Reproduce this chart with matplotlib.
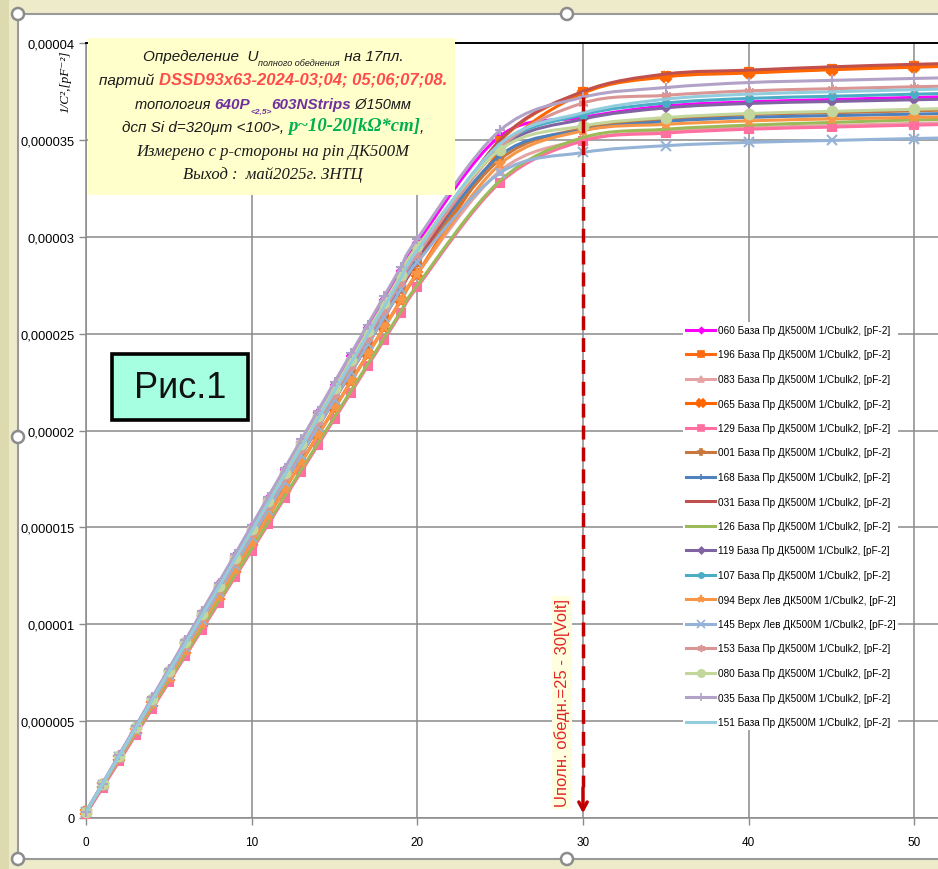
import numpy as np
import matplotlib
matplotlib.use('Agg')
import matplotlib.pyplot as plt
from matplotlib.path import Path
from matplotlib.patches import PathPatch, Rectangle, Circle
from matplotlib.lines import Line2D

plt.rcParams['font.family'] = ['Liberation Sans', 'DejaVu Sans']
SANS = ['Liberation Sans', 'DejaVu Sans']
SERIF = ['Liberation Serif', 'DejaVu Serif']

# напряжение, В
volts = [0, 1, 2, 3, 4, 5, 6, 7, 8, 9, 10, 11, 12, 13, 14, 15, 16, 17, 18, 19, 20,
         25, 30, 35, 40, 45, 50, 55]

# 1/C^2 в единицах 1e-6 pF^-2
s060 = [0.3, 1.77, 3.24, 4.71, 6.18, 7.65, 9.12, 10.59, 12.06, 13.53, 15.0, 16.47, 17.94, 19.41, 20.88, 22.35, 23.82, 25.29, 26.76, 28.23, 29.7,
        35.2, 36.16, 36.75, 36.96, 37.08, 37.19, 37.28]
s196 = [0.3, 1.72, 3.14, 4.56, 5.98, 7.4, 8.82, 10.24, 11.66, 13.08, 14.5, 15.92, 17.34, 18.76, 20.18, 21.6, 23.02, 24.44, 25.86, 27.28, 28.7,
        34.95, 37.48, 38.3, 38.51, 38.68, 38.82, 38.93]
s083 = [0.3, 1.69, 3.08, 4.47, 5.86, 7.25, 8.64, 10.03, 11.42, 12.81, 14.2, 15.59, 16.98, 18.37, 19.76, 21.15, 22.54, 23.93, 25.32, 26.71, 28.1,
        33.4, 35.0, 35.45, 35.62, 35.74, 35.85, 35.94]
s065 = [0.3, 1.69, 3.08, 4.47, 5.86, 7.25, 8.64, 10.03, 11.42, 12.81, 14.2, 15.59, 16.98, 18.37, 19.76, 21.15, 22.54, 23.93, 25.32, 26.71, 28.1,
        34.4, 37.4, 38.25, 38.45, 38.62, 38.75, 38.86]
s129 = [0.2, 1.56, 2.92, 4.28, 5.64, 7.0, 8.36, 9.72, 11.08, 12.44, 13.8, 15.16, 16.52, 17.88, 19.24, 20.6, 21.96, 23.32, 24.68, 26.04, 27.4,
        32.8, 34.95, 35.35, 35.55, 35.66, 35.76, 35.85]
s001 = [0.3, 1.72, 3.14, 4.56, 5.98, 7.4, 8.82, 10.24, 11.66, 13.08, 14.5, 15.92, 17.34, 18.76, 20.18, 21.6, 23.02, 24.44, 25.86, 27.28, 28.7,
        34.0, 35.6, 36.05, 36.3, 36.4, 36.5, 36.6]
s168 = [0.3, 1.73, 3.16, 4.59, 6.02, 7.45, 8.88, 10.31, 11.74, 13.17, 14.6, 16.03, 17.46, 18.89, 20.32, 21.75, 23.18, 24.61, 26.04, 27.47, 28.9,
        34.2, 35.5, 35.95, 36.16, 36.25, 36.33, 36.41]
s031 = [0.3, 1.72, 3.14, 4.56, 5.98, 7.4, 8.82, 10.24, 11.66, 13.08, 14.5, 15.92, 17.34, 18.76, 20.18, 21.6, 23.02, 24.44, 25.86, 27.28, 28.7,
        35.0, 37.5, 38.4, 38.6, 38.77, 38.9, 39.0]
s126 = [0.3, 1.66, 3.02, 4.38, 5.74, 7.1, 8.46, 9.82, 11.18, 12.54, 13.9, 15.26, 16.62, 17.98, 19.34, 20.7, 22.06, 23.42, 24.78, 26.14, 27.5,
        32.9, 35.12, 35.55, 35.76, 35.9, 36.03, 36.12]
s119 = [0.3, 1.75, 3.2, 4.65, 6.1, 7.55, 9.0, 10.45, 11.9, 13.35, 14.8, 16.25, 17.7, 19.15, 20.6, 22.05, 23.5, 24.95, 26.4, 27.85, 29.3,
        34.6, 36.07, 36.65, 36.88, 36.98, 37.07, 37.15]
s107 = [0.3, 1.75, 3.2, 4.65, 6.1, 7.55, 9.0, 10.45, 11.9, 13.35, 14.8, 16.25, 17.7, 19.15, 20.6, 22.05, 23.5, 24.95, 26.4, 27.85, 29.3,
        34.7, 36.3, 36.9, 37.14, 37.25, 37.36, 37.45]
s094 = [0.3, 1.69, 3.08, 4.47, 5.86, 7.25, 8.64, 10.03, 11.42, 12.81, 14.2, 15.59, 16.98, 18.37, 19.76, 21.15, 22.54, 23.93, 25.32, 26.71, 28.1,
        33.75, 35.47, 35.8, 35.98, 36.08, 36.16, 36.24]
s145 = [0.3, 1.72, 3.14, 4.56, 5.98, 7.4, 8.82, 10.24, 11.66, 13.08, 14.5, 15.92, 17.34, 18.76, 20.18, 21.6, 23.02, 24.44, 25.86, 27.28, 28.7,
        33.3, 34.35, 34.7, 34.87, 34.97, 35.07, 35.15]
s153 = [0.3, 1.74, 3.18, 4.62, 6.06, 7.5, 8.94, 10.38, 11.82, 13.26, 14.7, 16.14, 17.58, 19.02, 20.46, 21.9, 23.34, 24.78, 26.22, 27.66, 29.1,
        34.6, 36.9, 37.3, 37.53, 37.64, 37.74, 37.83]
s080 = [0.3, 1.76, 3.22, 4.68, 6.14, 7.6, 9.06, 10.52, 11.98, 13.44, 14.9, 16.36, 17.82, 19.28, 20.74, 22.2, 23.66, 25.12, 26.58, 28.04, 29.5,
        34.5, 35.72, 36.15, 36.36, 36.47, 36.58, 36.67]
s035 = [0.3, 1.78, 3.26, 4.74, 6.22, 7.7, 9.18, 10.66, 12.14, 13.62, 15.1, 16.58, 18.06, 19.54, 21.02, 22.5, 23.98, 25.46, 26.94, 28.42, 29.9,
        35.5, 37.2, 37.7, 37.96, 38.07, 38.17, 38.26]
s151 = [0.3, 1.75, 3.2, 4.65, 6.1, 7.55, 9.0, 10.45, 11.9, 13.35, 14.8, 16.25, 17.7, 19.15, 20.6, 22.05, 23.5, 24.95, 26.4, 27.85, 29.3,
        34.8, 36.4, 37.1, 37.36, 37.48, 37.59, 37.68]

labels = ['060 База Пр ДК500М 1/Cbulk2, [pF-2]', '196 База Пр ДК500М 1/Cbulk2, [pF-2]',
          '083 База Пр ДК500М 1/Cbulk2, [pF-2]', '065 База Пр ДК500М 1/Cbulk2, [pF-2]',
          '129 База Пр ДК500М 1/Cbulk2, [pF-2]', '001 База Пр ДК500М 1/Cbulk2, [pF-2]',
          '168 База Пр ДК500М 1/Cbulk2, [pF-2]', '031 База Пр ДК500М 1/Cbulk2, [pF-2]',
          '126 База Пр ДК500М 1/Cbulk2, [pF-2]', '119 База Пр ДК500М 1/Cbulk2, [pF-2]',
          '107 База Пр ДК500М 1/Cbulk2, [pF-2]', '094 Верх Лев ДК500М 1/Cbulk2, [pF-2]',
          '145 Верх Лев ДК500М 1/Cbulk2, [pF-2]', '153 База Пр ДК500М 1/Cbulk2, [pF-2]',
          '080 База Пр ДК500М 1/Cbulk2, [pF-2]', '035 База Пр ДК500М 1/Cbulk2, [pF-2]',
          '151 База Пр ДК500М 1/Cbulk2, [pF-2]']
series = [s060, s196, s083, s065, s129, s001, s168, s031, s126, s119, s107, s094, s145, s153, s080, s035, s151]
colors = ['#FF00FF', '#FF6A10', '#E6A3A3', '#FF6600', '#FF6F9F', '#C8783C', '#4F81BD', '#C0504D', '#9BBB59',
          '#8064A2', '#4BACC6', '#F79646', '#95B3D7', '#D99694', '#C3D69B', '#B3A2C7', '#93CDDD']
markers = ['D', 's', '^', 'X', 's', 'P', '+', None, None, 'D', 'o', '*', 'x', (6, 2, 0), 'o', '+', None]
msizes = [4, 6, 6, 7, 6, 5, 6, 0, 0, 4.5, 5, 7, 7, 7, 7, 7, 0]

yticks = [0, 5e-6, 1e-5, 1.5e-5, 2e-5, 2.5e-5, 3e-5, 3.5e-5, 4e-5]
ytick_labels = ['0', '0,000005', '0,00001', '0,000015', '0,00002', '0,000025', '0,00003', '0,000035', '0,00004']
xticks = [0, 10, 20, 30, 40, 50]

depletion_v = 30
arrow_top = 37.2e-6

W, H = 938, 870


def fx(x):
    return x / W


def fy(y):
    return 1 - y / H


def smooth_path(xs, ys):
    # сглаживание как в Excel (кубические кривые Безье)
    pts = np.column_stack([xs, ys])
    n = len(pts)
    verts = [pts[0]]
    codes = [Path.MOVETO]
    for i in range(n - 1):
        p0 = pts[i - 1] if i > 0 else pts[i]
        p1 = pts[i]
        p2 = pts[i + 1]
        p3 = pts[i + 2] if i + 2 < n else pts[i + 1]
        verts += [p1 + (p2 - p0) / 6, p2 - (p3 - p1) / 6, p2]
        codes += [Path.CURVE4] * 3
    return Path(verts, codes)


fig = plt.figure(figsize=(W / 100, H / 100), dpi=100, facecolor='#EEEBCB')
fig.add_artist(Rectangle((0, 0), fx(9), 1, transform=fig.transFigure, fc='#DEDAB0', ec='none', zorder=-2))
fig.add_artist(Rectangle((fx(18), fy(860)), 1.1, fy(15) - fy(860), transform=fig.transFigure,
                         fc='white', ec='#9A9A9A', lw=1.5, zorder=-1))

ax = fig.add_axes([fx(86), fy(819), 1 - fx(86), fy(44) - fy(819)])

x = np.array(volts, dtype=float)
for vals, c, m, ms in zip(series, colors, markers, msizes):
    y = np.array(vals) * 1e-6
    ax.add_patch(PathPatch(smooth_path(x, y), fill=False, edgecolor=c, lw=2.2, zorder=3))
    if m is not None:
        ax.plot(x, y, linestyle='none', marker=m, ms=ms, color=c, mec=c, mew=1.5, zorder=3, clip_on=False)

ax.set_xlim(0, (W - 86) / ((583 - 86) / 30))
ax.set_ylim(0, 4e-5)
ax.set_xticks(xticks)
ax.set_xticklabels([str(v) for v in xticks])
ax.set_yticks(yticks)
ax.set_yticklabels(ytick_labels)
ax.tick_params(axis='both', labelsize=8.5, color='#8A8A8A', length=5, width=1)
ax.tick_params(axis='y', labelsize=9.3, pad=3)
ax.tick_params(axis='x', pad=8)
ax.grid(True, color='#8A8A8A', lw=1.1)
ax.set_axisbelow(True)
for side in ['left', 'bottom']:
    ax.spines[side].set_color('#8A8A8A')
    ax.spines[side].set_linewidth(1.1)
ax.spines['right'].set_visible(False)
ax.spines['top'].set_color('black')
ax.spines['top'].set_linewidth(1.4)

# пунктирная стрелка U полного обеднения
ax.plot([depletion_v, depletion_v], [arrow_top, 1.6e-6], color='#C00000', lw=2.5,
        ls=(0, (4, 2.3)), zorder=6)
ax.annotate('', xy=(depletion_v, 0.1e-6), xytext=(depletion_v, 1.7e-6),
            arrowprops=dict(arrowstyle='->,head_length=0.55,head_width=0.3', color='#C00000', lw=2.5),
            zorder=6, annotation_clip=False)
ax.annotate('Uполн. обедн.=25 - 30[Volt]', xy=(562, H - 703), xycoords='figure pixels',
            rotation=90, ha='center', va='center', fontsize=12, color='#E02828',
            bbox=dict(boxstyle='square,pad=0.15', fc='#FFFFE0', ec='none'), zorder=6)

# легенда
handles = [Line2D([], [], color=c, lw=2.2, marker=m, ms=ms * 0.75, mec=c, mew=1.2)
           for c, m, ms in zip(colors, markers, msizes)]
leg = ax.legend(handles, labels, loc='upper left', bbox_to_anchor=(fx(683), fy(323)),
                bbox_transform=fig.transFigure, fontsize=7.2, frameon=True, facecolor='white',
                edgecolor='none', framealpha=1, fancybox=False, labelspacing=1.45,
                handlelength=2.9, handletextpad=0.25, borderpad=0.3, borderaxespad=0)
leg.set_zorder(8)

# подпись оси Y
fig.text(fx(66), fy(82), '1/C²,[pF⁻²]', rotation=90, ha='center', va='center',
         fontsize=9.5, fontstyle='italic', family=SERIF)

# Рис.1
ax.add_artist(Rectangle((fx(112), fy(421)), fx(248) - fx(112), fy(355) - fy(421), transform=fig.transFigure,
                        fc='#A6FFE0', ec='black', lw=2.6, zorder=10, clip_on=False))
ax.annotate('Рис.1', xy=(180, H - 389), xycoords='figure pixels', ha='center', va='center',
            fontsize=26, color='#111111', zorder=11, annotation_clip=False)

# жёлтый блок с описанием
ax.add_artist(Rectangle((fx(88), fy(196)), fx(455) - fx(88), fy(39) - fy(196), transform=fig.transFigure,
                        fc='#FFFFCC', ec='none', zorder=10, clip_on=False))

BLACK = '#1A1A1A'
RED = '#FF4B4B'
PURPLE = '#7030A0'
GREEN = '#00B050'
lines = [
    (61, [('Определение  U', 11, BLACK, 'normal', SANS, False),
          ('полного обеднения', 6.5, BLACK, 'normal', SANS, True),
          (' на 17пл.', 11, BLACK, 'normal', SANS, False)]),
    (85, [('партий ', 11, BLACK, 'normal', SANS, False),
          ('DSSD93x63-2024-03;04; 05;06;07;08.', 12, RED, 'bold', SANS, False)]),
    (109, [('топология ', 10.5, BLACK, 'normal', SANS, False),
           ('640P', 11, PURPLE, 'bold', SANS, False),
           ('<2,5>', 6, PURPLE, 'bold', SANS, True),
           ('603NStrips', 11, PURPLE, 'bold', SANS, False),
           (' Ø150мм', 10.5, BLACK, 'normal', SANS, False)]),
    (132, [('дсп Si d=320μm <100>, ', 11, BLACK, 'normal', SANS, False),
           ('p~10-20[kΩ*cm]', 13.5, GREEN, 'bold', SERIF, False),
           (',', 11, BLACK, 'normal', SANS, False)]),
    (156, [('Измерено с p-стороны на pin ДК500М', 12, BLACK, 'normal', SERIF, False)]),
    (179, [('Выход :  май2025г. ЗНТЦ', 12, BLACK, 'normal', SERIF, False)]),
]

cx = 273
text_rows = []
for y_img, pieces in lines:
    arts = []
    base = None
    for txt, size, color, weight, fam, sub in pieces:
        kw = dict(fontsize=size, color=color, fontweight=weight, fontstyle='italic', family=fam,
                  ha='left', va='baseline', zorder=11, annotation_clip=False)
        if base is None:
            a = ax.annotate(txt, xy=(cx, H - y_img), xycoords='figure pixels', **kw)
            base = a
        else:
            a = ax.annotate(txt, xy=(1, 0), xycoords=(arts[-1], base),
                            xytext=(0, -3 if sub else 0), textcoords='offset points',
                            **dict(kw, va='bottom'))
        arts.append(a)
    text_rows.append((y_img, base, arts))

# ручки выделения
for hx, hy in [(18, 15), (567, 15), (18, 438), (18, 860), (567, 860)]:
    fig.add_artist(Circle((hx / 100, (H - hy) / 100), 0.06, transform=fig.dpi_scale_trans,
                          fc='white', ec='#8C8C8C', lw=1.8, zorder=20))

# центрирование строк в жёлтом блоке
fig.canvas.draw()
r = fig.canvas.get_renderer()
for y_img, base, arts in text_rows:
    ext = [a.get_window_extent(r) for a in arts]
    x0 = min(e.x0 for e in ext)
    x1 = max(e.x1 for e in ext)
    base.xyann = (cx - (x1 - x0) / 2, H - y_img)

fig.savefig('out.png', dpi=100, facecolor=fig.get_facecolor())
